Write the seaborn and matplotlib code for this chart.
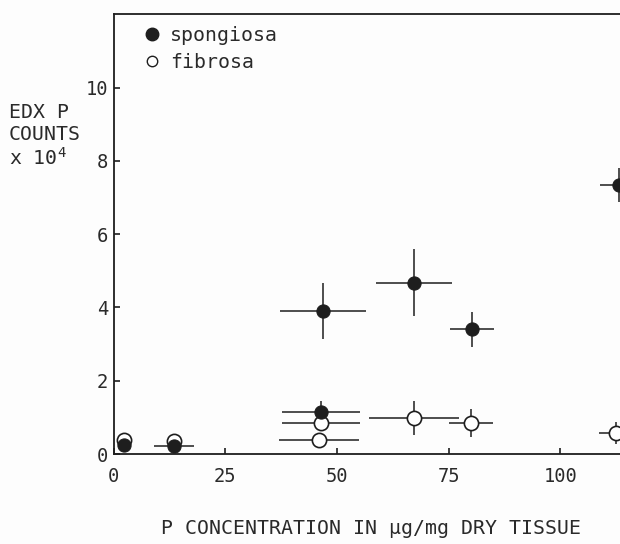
import numpy as np
import pandas as pd
import matplotlib
matplotlib.use("Agg")
import matplotlib.pyplot as plt
from matplotlib.lines import Line2D
import seaborn as sns

# ------------------------------------------------------------
#  data (P concentration vs EDX P counts)
# ------------------------------------------------------------
spong_x = [2.4, 13.6, 46.5, 46.8, 67.2, 80.2, 113.0]
spong_y = [0.25, 0.22, 1.15, 3.91, 4.68, 3.40, 7.34]
spong_xerr = [0.0, 4.5, 8.7, 9.6, 8.5, 4.9, 4.2]
spong_yerr = [0.0, 0.0, 0.30, 0.76, 0.91, 0.47, 0.46]

fibr_x = [2.4, 13.6, 46.5, 46.0, 67.2, 79.9, 112.5]
fibr_y = [0.38, 0.36, 0.84, 0.38, 0.99, 0.85, 0.58]
fibr_xerr = [0.0, 0.0, 8.7, 9.0, 10.1, 4.9, 3.9]
fibr_yerr = [0.0, 0.0, 0.0, 0.0, 0.46, 0.38, 0.30]

x_ticks = [0, 25, 50, 75, 100]
y_ticks = [0, 2, 4, 6, 8, 10]

INK = "#1e1e1e"
MONO = ["DejaVu Sans Mono", "DejaVu Sans"]

sns.set_style("ticks")
plt.rcParams["font.family"] = MONO
plt.rcParams["mathtext.fontset"] = "custom"
plt.rcParams["mathtext.rm"] = "DejaVu Sans Mono"
plt.rcParams["mathtext.it"] = "DejaVu Sans Mono"
plt.rcParams["mathtext.bf"] = "DejaVu Sans Mono"

df_s = pd.DataFrame({"x": spong_x, "y": spong_y})
df_f = pd.DataFrame({"x": fibr_x, "y": fibr_y})

fig = plt.figure(figsize=(6.2, 5.44), dpi=100)
fig.patch.set_facecolor("#fdfdfd")
# axes run past the right edge, like the cropped original
ax = fig.add_axes([0.1831, 0.1654, 0.865, 0.8083])
ax.set_facecolor("#fdfdfd")

# error bars first, markers on top
ax.errorbar(fibr_x, fibr_y, xerr=fibr_xerr, yerr=fibr_yerr, fmt="none",
            ecolor=INK, elinewidth=1.1, capsize=0, zorder=2)
ax.errorbar(spong_x, spong_y, xerr=spong_xerr, yerr=spong_yerr, fmt="none",
            ecolor=INK, elinewidth=1.1, capsize=0, zorder=2)

sns.scatterplot(data=df_f, x="x", y="y", ax=ax, s=105, marker="o",
                facecolor="white", edgecolor=INK, linewidth=1.2, zorder=3)
sns.scatterplot(data=df_s, x="x", y="y", ax=ax, s=90, marker="o",
                color=INK, edgecolor=INK, linewidth=0.8, zorder=4)

ax.set_xlim(0, 120)
ax.set_ylim(0, 12)
ax.set_xticks(x_ticks)
ax.set_yticks(y_ticks)
ax.set_xlabel("")
ax.set_ylabel("")
ax.tick_params(direction="in", length=4, width=1.2, color=INK,
               labelcolor="#2a2a2a", labelsize=13.5)
ax.tick_params(axis="x", pad=9)
ax.tick_params(axis="y", pad=4)

for side in ["left", "bottom", "top"]:
    ax.spines[side].set_visible(True)
    ax.spines[side].set_color(INK)
    ax.spines[side].set_linewidth(1.3)
ax.spines["right"].set_visible(False)

handles = [
    Line2D([], [], ls="", marker="o", markersize=9, color=INK),
    Line2D([], [], ls="", marker="o", markersize=7.5, markerfacecolor="white",
           markeredgecolor=INK, markeredgewidth=1.0),
]
ax.legend(handles, ["spongiosa", "fibrosa"], loc="upper left",
          bbox_to_anchor=(143 / 620, 1 - 26 / 544), bbox_transform=fig.transFigure,
          frameon=False, fontsize=14.3, handlelength=0.9, handletextpad=0.45,
          labelspacing=0.42, borderpad=0, borderaxespad=0, labelcolor="#2a2a2a")

# stacked y-axis caption at upper left
fig.text(9 / 620, 1 - 113 / 544, "EDX P", fontsize=14.3, color="#2a2a2a",
         ha="left", va="center")
fig.text(9 / 620, 1 - 135 / 544, "COUNTS", fontsize=14.3, color="#2a2a2a",
         ha="left", va="center")
fig.text(9 / 620, 1 - 158 / 544, "x 10$^{4}$", fontsize=14.3, color="#2a2a2a",
         ha="left", va="center")

fig.text(371 / 620, 1 - 528 / 544, "P CONCENTRATION IN \u00b5g/mg DRY TISSUE",
         fontsize=14.3, color="#2a2a2a", ha="center", va="center")

fig.savefig("out.png", dpi=100, facecolor=fig.get_facecolor())
